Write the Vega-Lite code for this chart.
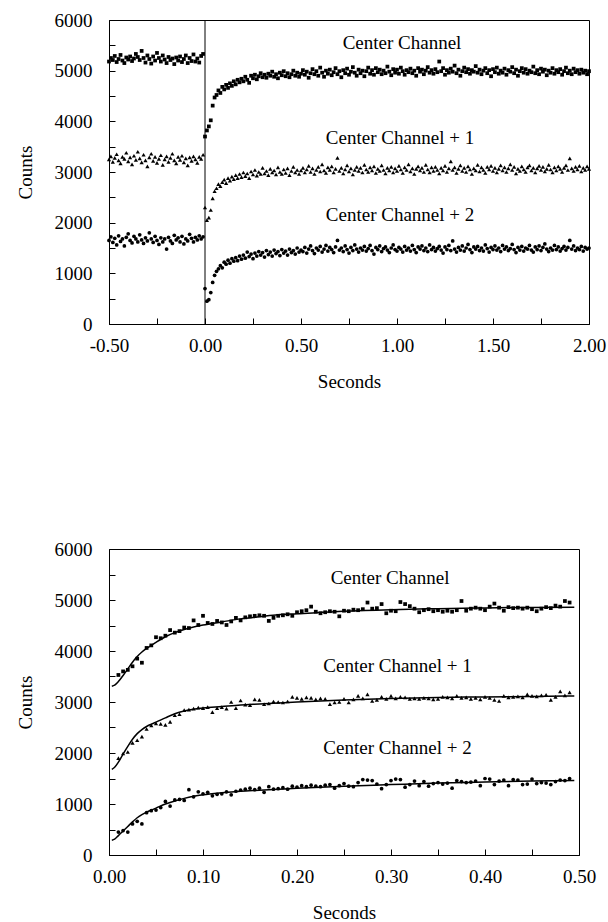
{
"$schema":"https://vega.github.io/schema/vega-lite/v6.json",
"padding":{"left":15,"top":10,"right":10,"bottom":4},
"background":"white",
"spacing":147,
"config":{
"font":"'Liberation Serif', 'DejaVu Serif', serif",
"view":{"stroke":"black","strokeWidth":1},
"axis":{"grid":false,"tickSize":-6,"tickColor":"black","domainColor":"black","labelColor":"black","titleColor":"black","labelFont":"'Liberation Serif', 'DejaVu Serif', serif","titleFont":"'Liberation Serif', 'DejaVu Serif', serif","labelFontSize":19,"titleFontSize":19,"titleFontWeight":"normal","labelOverlap":false,"labelFlush":false},
"axisX":{"labelPadding":18,"titlePadding":17},
"axisY":{"labelPadding":23,"titlePadding":19},
"text":{"font":"'Liberation Serif', 'DejaVu Serif', serif","fontSize":19,"color":"black"}
},
"datasets":{
"c0":[{"x":-0.5,"y":5180},{"x":-0.49,"y":5250},{"x":-0.48,"y":5210},{"x":-0.47,"y":5290},{"x":-0.46,"y":5170},{"x":-0.45,"y":5230},{"x":-0.44,"y":5310},{"x":-0.43,"y":5200},{"x":-0.42,"y":5150},{"x":-0.41,"y":5260},{"x":-0.4,"y":5220},{"x":-0.39,"y":5280},{"x":-0.38,"y":5190},{"x":-0.37,"y":5240},{"x":-0.36,"y":5330},{"x":-0.35,"y":5270},{"x":-0.34,"y":5210},{"x":-0.33,"y":5390},{"x":-0.32,"y":5250},{"x":-0.31,"y":5160},{"x":-0.3,"y":5300},{"x":-0.29,"y":5230},{"x":-0.28,"y":5140},{"x":-0.27,"y":5280},{"x":-0.26,"y":5200},{"x":-0.25,"y":5350},{"x":-0.24,"y":5250},{"x":-0.23,"y":5180},{"x":-0.22,"y":5300},{"x":-0.21,"y":5220},{"x":-0.2,"y":5150},{"x":-0.19,"y":5270},{"x":-0.18,"y":5210},{"x":-0.17,"y":5240},{"x":-0.16,"y":5130},{"x":-0.15,"y":5260},{"x":-0.14,"y":5200},{"x":-0.13,"y":5280},{"x":-0.12,"y":5170},{"x":-0.11,"y":5230},{"x":-0.1,"y":5300},{"x":-0.09,"y":5150},{"x":-0.08,"y":5250},{"x":-0.07,"y":5190},{"x":-0.06,"y":5320},{"x":-0.05,"y":5180},{"x":-0.04,"y":5240},{"x":-0.03,"y":5160},{"x":-0.02,"y":5290},{"x":-0.01,"y":5330},
{"x":0,"y":3700},{"x":0.01,"y":3820},{"x":0.02,"y":3900},{"x":0.03,"y":4020},{"x":0.04,"y":4310},{"x":0.05,"y":4470},{"x":0.06,"y":4520},{"x":0.07,"y":4610},{"x":0.08,"y":4560},{"x":0.09,"y":4680},{"x":0.1,"y":4630},{"x":0.11,"y":4720},{"x":0.12,"y":4660},{"x":0.13,"y":4750},{"x":0.14,"y":4700},{"x":0.15,"y":4790},{"x":0.16,"y":4730},{"x":0.17,"y":4820},{"x":0.18,"y":4770},{"x":0.19,"y":4840},{"x":0.2,"y":4790},{"x":0.21,"y":4880},{"x":0.22,"y":4820},{"x":0.23,"y":4760},{"x":0.24,"y":4900},{"x":0.25,"y":4850},{"x":0.26,"y":4920},{"x":0.27,"y":4830},{"x":0.28,"y":4890},{"x":0.29,"y":4950},{"x":0.3,"y":4870},{"x":0.31,"y":4920},{"x":0.32,"y":4860},{"x":0.33,"y":4940},{"x":0.34,"y":4900},{"x":0.35,"y":4980},{"x":0.36,"y":4880},{"x":0.37,"y":4930},{"x":0.38,"y":4850},{"x":0.39,"y":4960},{"x":0.4,"y":4910},{"x":0.41,"y":4990},{"x":0.42,"y":4890},{"x":0.43,"y":4950},{"x":0.44,"y":4870},{"x":0.45,"y":4930},{"x":0.46,"y":5000},{"x":0.47,"y":4900},{"x":0.48,"y":4960},{"x":0.49,"y":4880},{"x":0.5,"y":4940},
{"x":0.51,"y":5010},{"x":0.52,"y":4920},{"x":0.53,"y":4980},{"x":0.54,"y":4860},{"x":0.55,"y":4950},{"x":0.56,"y":5030},{"x":0.57,"y":4930},{"x":0.58,"y":4990},{"x":0.59,"y":4900},{"x":0.6,"y":5060},{"x":0.61,"y":4960},{"x":0.62,"y":4880},{"x":0.63,"y":5000},{"x":0.64,"y":4940},{"x":0.65,"y":5020},{"x":0.66,"y":4910},{"x":0.67,"y":4970},{"x":0.68,"y":5050},{"x":0.69,"y":4930},{"x":0.7,"y":4990},{"x":0.71,"y":4870},{"x":0.72,"y":5010},{"x":0.73,"y":4950},{"x":0.74,"y":5040},{"x":0.75,"y":4920},{"x":0.76,"y":4980},{"x":0.77,"y":5070},{"x":0.78,"y":4960},{"x":0.79,"y":4900},{"x":0.8,"y":5020},{"x":0.81,"y":4950},{"x":0.82,"y":5000},{"x":0.83,"y":4890},{"x":0.84,"y":4990},{"x":0.85,"y":5060},{"x":0.86,"y":4940},{"x":0.87,"y":5010},{"x":0.88,"y":4920},{"x":0.89,"y":5050},{"x":0.9,"y":4970},{"x":0.91,"y":5020},{"x":0.92,"y":4930},{"x":0.93,"y":5000},{"x":0.94,"y":4950},{"x":0.95,"y":5080},{"x":0.96,"y":4980},{"x":0.97,"y":4910},{"x":0.98,"y":5030},{"x":0.99,"y":4960},{"x":1,"y":5020},
{"x":1.01,"y":4940},{"x":1.02,"y":5060},{"x":1.03,"y":4990},{"x":1.04,"y":4920},{"x":1.05,"y":5010},{"x":1.06,"y":4970},{"x":1.07,"y":5040},{"x":1.08,"y":4950},{"x":1.09,"y":5000},{"x":1.1,"y":4900},{"x":1.11,"y":5050},{"x":1.12,"y":4980},{"x":1.13,"y":5020},{"x":1.14,"y":4930},{"x":1.15,"y":5000},{"x":1.16,"y":5070},{"x":1.17,"y":4960},{"x":1.18,"y":5010},{"x":1.19,"y":4940},{"x":1.2,"y":5030},{"x":1.21,"y":4970},{"x":1.22,"y":5180},{"x":1.23,"y":4990},{"x":1.24,"y":5050},{"x":1.25,"y":4920},{"x":1.26,"y":5010},{"x":1.27,"y":4960},{"x":1.28,"y":5040},{"x":1.29,"y":4980},{"x":1.3,"y":5100},{"x":1.31,"y":4950},{"x":1.32,"y":5020},{"x":1.33,"y":4900},{"x":1.34,"y":4990},{"x":1.35,"y":5060},{"x":1.36,"y":4970},{"x":1.37,"y":5030},{"x":1.38,"y":4940},{"x":1.39,"y":5010},{"x":1.4,"y":4980},{"x":1.41,"y":5090},{"x":1.42,"y":4960},{"x":1.43,"y":5020},{"x":1.44,"y":4930},{"x":1.45,"y":5000},{"x":1.46,"y":5050},{"x":1.47,"y":4950},{"x":1.48,"y":5010},{"x":1.49,"y":4890},{"x":1.5,"y":5030},
{"x":1.51,"y":4970},{"x":1.52,"y":5060},{"x":1.53,"y":4940},{"x":1.54,"y":5000},{"x":1.55,"y":4960},{"x":1.56,"y":5040},{"x":1.57,"y":4920},{"x":1.58,"y":5010},{"x":1.59,"y":4980},{"x":1.6,"y":5070},{"x":1.61,"y":4950},{"x":1.62,"y":5020},{"x":1.63,"y":4900},{"x":1.64,"y":4990},{"x":1.65,"y":5050},{"x":1.66,"y":4960},{"x":1.67,"y":5030},{"x":1.68,"y":4940},{"x":1.69,"y":5000},{"x":1.7,"y":4970},{"x":1.71,"y":5080},{"x":1.72,"y":4950},{"x":1.73,"y":5010},{"x":1.74,"y":4930},{"x":1.75,"y":5040},{"x":1.76,"y":4980},{"x":1.77,"y":5020},{"x":1.78,"y":4910},{"x":1.79,"y":5000},{"x":1.8,"y":4960},{"x":1.81,"y":5050},{"x":1.82,"y":4940},{"x":1.83,"y":5010},{"x":1.84,"y":4970},{"x":1.85,"y":5030},{"x":1.86,"y":4920},{"x":1.87,"y":4990},{"x":1.88,"y":5060},{"x":1.89,"y":4950},{"x":1.9,"y":5000},{"x":1.91,"y":4930},{"x":1.92,"y":5040},{"x":1.93,"y":4970},{"x":1.94,"y":5010},{"x":1.95,"y":4940},{"x":1.96,"y":5020},{"x":1.97,"y":4960},{"x":1.98,"y":5000},{"x":1.99,"y":4930},{"x":2,"y":4990}],
"c1":[{"x":-0.5,"y":3250},{"x":-0.49,"y":3310},{"x":-0.48,"y":3200},{"x":-0.47,"y":3280},{"x":-0.46,"y":3350},{"x":-0.45,"y":3230},{"x":-0.44,"y":3170},{"x":-0.43,"y":3300},{"x":-0.42,"y":3260},{"x":-0.41,"y":3380},{"x":-0.4,"y":3210},{"x":-0.39,"y":3290},{"x":-0.38,"y":3150},{"x":-0.37,"y":3320},{"x":-0.36,"y":3240},{"x":-0.35,"y":3400},{"x":-0.34,"y":3270},{"x":-0.33,"y":3190},{"x":-0.32,"y":3340},{"x":-0.31,"y":3230},{"x":-0.3,"y":3110},{"x":-0.29,"y":3290},{"x":-0.28,"y":3360},{"x":-0.27,"y":3220},{"x":-0.26,"y":3300},{"x":-0.25,"y":3180},{"x":-0.24,"y":3260},{"x":-0.23,"y":3330},{"x":-0.22,"y":3140},{"x":-0.21,"y":3250},{"x":-0.2,"y":3310},{"x":-0.19,"y":3200},{"x":-0.18,"y":3280},{"x":-0.17,"y":3360},{"x":-0.16,"y":3230},{"x":-0.15,"y":3170},{"x":-0.14,"y":3300},{"x":-0.13,"y":3240},{"x":-0.12,"y":3320},{"x":-0.11,"y":3190},{"x":-0.1,"y":3270},{"x":-0.09,"y":3130},{"x":-0.08,"y":3290},{"x":-0.07,"y":3220},{"x":-0.06,"y":3310},{"x":-0.05,"y":3250},{"x":-0.04,"y":3180},{"x":-0.03,"y":3300},{"x":-0.02,"y":3260},{"x":-0.01,"y":3340},
{"x":0,"y":2300},{"x":0.01,"y":2050},{"x":0.02,"y":2100},{"x":0.03,"y":2250},{"x":0.04,"y":2480},{"x":0.05,"y":2620},{"x":0.06,"y":2680},{"x":0.07,"y":2760},{"x":0.08,"y":2720},{"x":0.09,"y":2800},{"x":0.1,"y":2850},{"x":0.11,"y":2780},{"x":0.12,"y":2880},{"x":0.13,"y":2830},{"x":0.14,"y":2910},{"x":0.15,"y":2860},{"x":0.16,"y":2940},{"x":0.17,"y":2880},{"x":0.18,"y":2960},{"x":0.19,"y":2900},{"x":0.2,"y":2990},{"x":0.21,"y":2920},{"x":0.22,"y":2970},{"x":0.23,"y":2880},{"x":0.24,"y":3010},{"x":0.25,"y":2950},{"x":0.26,"y":3040},{"x":0.27,"y":2930},{"x":0.28,"y":3000},{"x":0.29,"y":2960},{"x":0.3,"y":3080},{"x":0.31,"y":2970},{"x":0.32,"y":3020},{"x":0.33,"y":2940},{"x":0.34,"y":3060},{"x":0.35,"y":2990},{"x":0.36,"y":3030},{"x":0.37,"y":2950},{"x":0.38,"y":3090},{"x":0.39,"y":3000},{"x":0.4,"y":2960},{"x":0.41,"y":3050},{"x":0.42,"y":2980},{"x":0.43,"y":3070},{"x":0.44,"y":2940},{"x":0.45,"y":3020},{"x":0.46,"y":3100},{"x":0.47,"y":2990},{"x":0.48,"y":3040},{"x":0.49,"y":2960},{"x":0.5,"y":3030},
{"x":0.51,"y":3080},{"x":0.52,"y":2990},{"x":0.53,"y":3050},{"x":0.54,"y":3120},{"x":0.55,"y":3000},{"x":0.56,"y":3070},{"x":0.57,"y":2960},{"x":0.58,"y":3040},{"x":0.59,"y":3100},{"x":0.6,"y":3010},{"x":0.61,"y":3150},{"x":0.62,"y":3030},{"x":0.63,"y":2980},{"x":0.64,"y":3090},{"x":0.65,"y":3040},{"x":0.66,"y":3110},{"x":0.67,"y":2990},{"x":0.68,"y":3060},{"x":0.69,"y":3280},{"x":0.7,"y":3020},{"x":0.71,"y":3080},{"x":0.72,"y":2970},{"x":0.73,"y":3050},{"x":0.74,"y":3130},{"x":0.75,"y":3010},{"x":0.76,"y":3070},{"x":0.77,"y":2950},{"x":0.78,"y":3040},{"x":0.79,"y":3100},{"x":0.8,"y":3020},{"x":0.81,"y":3080},{"x":0.82,"y":2990},{"x":0.83,"y":3140},{"x":0.84,"y":3050},{"x":0.85,"y":3000},{"x":0.86,"y":3090},{"x":0.87,"y":3030},{"x":0.88,"y":3110},{"x":0.89,"y":2980},{"x":0.9,"y":3060},{"x":0.91,"y":3020},{"x":0.92,"y":3130},{"x":0.93,"y":3040},{"x":0.94,"y":2970},{"x":0.95,"y":3080},{"x":0.96,"y":3030},{"x":0.97,"y":3100},{"x":0.98,"y":2990},{"x":0.99,"y":3070},{"x":1,"y":3020},
{"x":1.01,"y":3120},{"x":1.02,"y":3050},{"x":1.03,"y":2980},{"x":1.04,"y":3090},{"x":1.05,"y":3040},{"x":1.06,"y":3150},{"x":1.07,"y":3010},{"x":1.08,"y":3070},{"x":1.09,"y":2960},{"x":1.1,"y":3060},{"x":1.11,"y":3110},{"x":1.12,"y":3030},{"x":1.13,"y":3080},{"x":1.14,"y":3000},{"x":1.15,"y":3140},{"x":1.16,"y":3050},{"x":1.17,"y":2990},{"x":1.18,"y":3090},{"x":1.19,"y":3020},{"x":1.2,"y":3100},{"x":1.21,"y":3040},{"x":1.22,"y":2970},{"x":1.23,"y":3080},{"x":1.24,"y":3030},{"x":1.25,"y":3120},{"x":1.26,"y":3000},{"x":1.27,"y":3070},{"x":1.28,"y":3210},{"x":1.29,"y":3040},{"x":1.3,"y":3090},{"x":1.31,"y":2980},{"x":1.32,"y":3060},{"x":1.33,"y":3130},{"x":1.34,"y":3020},{"x":1.35,"y":3080},{"x":1.36,"y":3000},{"x":1.37,"y":3110},{"x":1.38,"y":3050},{"x":1.39,"y":2960},{"x":1.4,"y":3070},{"x":1.41,"y":3030},{"x":1.42,"y":3140},{"x":1.43,"y":3010},{"x":1.44,"y":3090},{"x":1.45,"y":3040},{"x":1.46,"y":2980},{"x":1.47,"y":3100},{"x":1.48,"y":3050},{"x":1.49,"y":3120},{"x":1.5,"y":3020},
{"x":1.51,"y":3080},{"x":1.52,"y":2990},{"x":1.53,"y":3060},{"x":1.54,"y":3130},{"x":1.55,"y":3030},{"x":1.56,"y":3090},{"x":1.57,"y":3000},{"x":1.58,"y":3070},{"x":1.59,"y":3150},{"x":1.6,"y":3040},{"x":1.61,"y":3100},{"x":1.62,"y":2970},{"x":1.63,"y":3060},{"x":1.64,"y":3020},{"x":1.65,"y":3110},{"x":1.66,"y":3050},{"x":1.67,"y":3000},{"x":1.68,"y":3090},{"x":1.69,"y":3130},{"x":1.7,"y":3030},{"x":1.71,"y":3080},{"x":1.72,"y":2990},{"x":1.73,"y":3070},{"x":1.74,"y":3120},{"x":1.75,"y":3040},{"x":1.76,"y":3100},{"x":1.77,"y":3010},{"x":1.78,"y":3060},{"x":1.79,"y":3140},{"x":1.8,"y":3050},{"x":1.81,"y":2990},{"x":1.82,"y":3090},{"x":1.83,"y":3030},{"x":1.84,"y":3110},{"x":1.85,"y":3060},{"x":1.86,"y":3000},{"x":1.87,"y":3080},{"x":1.88,"y":3130},{"x":1.89,"y":3040},{"x":1.9,"y":3270},{"x":1.91,"y":3070},{"x":1.92,"y":3020},{"x":1.93,"y":3100},{"x":1.94,"y":3050},{"x":1.95,"y":3120},{"x":1.96,"y":3010},{"x":1.97,"y":3080},{"x":1.98,"y":3040},{"x":1.99,"y":3110},{"x":2,"y":3060}],
"c2":[{"x":-0.5,"y":1650},{"x":-0.49,"y":1720},{"x":-0.48,"y":1610},{"x":-0.47,"y":1690},{"x":-0.46,"y":1560},{"x":-0.45,"y":1740},{"x":-0.44,"y":1630},{"x":-0.43,"y":1680},{"x":-0.42,"y":1540},{"x":-0.41,"y":1710},{"x":-0.4,"y":1780},{"x":-0.39,"y":1650},{"x":-0.38,"y":1600},{"x":-0.37,"y":1730},{"x":-0.36,"y":1680},{"x":-0.35,"y":1620},{"x":-0.34,"y":1760},{"x":-0.33,"y":1660},{"x":-0.32,"y":1590},{"x":-0.31,"y":1700},{"x":-0.3,"y":1640},{"x":-0.29,"y":1800},{"x":-0.28,"y":1680},{"x":-0.27,"y":1610},{"x":-0.26,"y":1730},{"x":-0.25,"y":1650},{"x":-0.24,"y":1570},{"x":-0.23,"y":1700},{"x":-0.22,"y":1620},{"x":-0.21,"y":1680},{"x":-0.2,"y":1480},{"x":-0.19,"y":1710},{"x":-0.18,"y":1640},{"x":-0.17,"y":1590},{"x":-0.16,"y":1750},{"x":-0.15,"y":1660},{"x":-0.14,"y":1700},{"x":-0.13,"y":1620},{"x":-0.12,"y":1730},{"x":-0.11,"y":1580},{"x":-0.1,"y":1680},{"x":-0.09,"y":1640},{"x":-0.08,"y":1770},{"x":-0.07,"y":1690},{"x":-0.06,"y":1620},{"x":-0.05,"y":1710},{"x":-0.04,"y":1660},{"x":-0.03,"y":1740},{"x":-0.02,"y":1680},{"x":-0.01,"y":1720},
{"x":0,"y":700},{"x":0.01,"y":450},{"x":0.02,"y":480},{"x":0.03,"y":620},{"x":0.04,"y":820},{"x":0.05,"y":960},{"x":0.06,"y":1040},{"x":0.07,"y":1090},{"x":0.08,"y":1150},{"x":0.09,"y":1110},{"x":0.1,"y":1220},{"x":0.11,"y":1180},{"x":0.12,"y":1260},{"x":0.13,"y":1200},{"x":0.14,"y":1290},{"x":0.15,"y":1240},{"x":0.16,"y":1310},{"x":0.17,"y":1250},{"x":0.18,"y":1340},{"x":0.19,"y":1280},{"x":0.2,"y":1360},{"x":0.21,"y":1300},{"x":0.22,"y":1420},{"x":0.23,"y":1330},{"x":0.24,"y":1380},{"x":0.25,"y":1290},{"x":0.26,"y":1400},{"x":0.27,"y":1340},{"x":0.28,"y":1430},{"x":0.29,"y":1360},{"x":0.3,"y":1410},{"x":0.31,"y":1320},{"x":0.32,"y":1450},{"x":0.33,"y":1370},{"x":0.34,"y":1420},{"x":0.35,"y":1340},{"x":0.36,"y":1460},{"x":0.37,"y":1390},{"x":0.38,"y":1430},{"x":0.39,"y":1350},{"x":0.4,"y":1470},{"x":0.41,"y":1400},{"x":0.42,"y":1440},{"x":0.43,"y":1360},{"x":0.44,"y":1480},{"x":0.45,"y":1410},{"x":0.46,"y":1450},{"x":0.47,"y":1380},{"x":0.48,"y":1500},{"x":0.49,"y":1420},{"x":0.5,"y":1460},
{"x":0.51,"y":1430},{"x":0.52,"y":1510},{"x":0.53,"y":1400},{"x":0.54,"y":1480},{"x":0.55,"y":1540},{"x":0.56,"y":1450},{"x":0.57,"y":1390},{"x":0.58,"y":1500},{"x":0.59,"y":1460},{"x":0.6,"y":1530},{"x":0.61,"y":1420},{"x":0.62,"y":1480},{"x":0.63,"y":1550},{"x":0.64,"y":1440},{"x":0.65,"y":1510},{"x":0.66,"y":1470},{"x":0.67,"y":1410},{"x":0.68,"y":1520},{"x":0.69,"y":1650},{"x":0.7,"y":1460},{"x":0.71,"y":1500},{"x":0.72,"y":1430},{"x":0.73,"y":1540},{"x":0.74,"y":1470},{"x":0.75,"y":1400},{"x":0.76,"y":1510},{"x":0.77,"y":1450},{"x":0.78,"y":1560},{"x":0.79,"y":1480},{"x":0.8,"y":1420},{"x":0.81,"y":1500},{"x":0.82,"y":1460},{"x":0.83,"y":1530},{"x":0.84,"y":1440},{"x":0.85,"y":1490},{"x":0.86,"y":1550},{"x":0.87,"y":1450},{"x":0.88,"y":1380},{"x":0.89,"y":1510},{"x":0.9,"y":1470},{"x":0.91,"y":1540},{"x":0.92,"y":1430},{"x":0.93,"y":1490},{"x":0.94,"y":1520},{"x":0.95,"y":1460},{"x":0.96,"y":1410},{"x":0.97,"y":1500},{"x":0.98,"y":1560},{"x":0.99,"y":1470},{"x":1,"y":1440},
{"x":1.01,"y":1510},{"x":1.02,"y":1480},{"x":1.03,"y":1420},{"x":1.04,"y":1530},{"x":1.05,"y":1460},{"x":1.06,"y":1500},{"x":1.07,"y":1440},{"x":1.08,"y":1550},{"x":1.09,"y":1470},{"x":1.1,"y":1410},{"x":1.11,"y":1520},{"x":1.12,"y":1480},{"x":1.13,"y":1540},{"x":1.14,"y":1450},{"x":1.15,"y":1500},{"x":1.16,"y":1430},{"x":1.17,"y":1560},{"x":1.18,"y":1470},{"x":1.19,"y":1510},{"x":1.2,"y":1440},{"x":1.21,"y":1490},{"x":1.22,"y":1530},{"x":1.23,"y":1460},{"x":1.24,"y":1400},{"x":1.25,"y":1520},{"x":1.26,"y":1470},{"x":1.27,"y":1550},{"x":1.28,"y":1450},{"x":1.29,"y":1640},{"x":1.3,"y":1480},{"x":1.31,"y":1420},{"x":1.32,"y":1510},{"x":1.33,"y":1460},{"x":1.34,"y":1540},{"x":1.35,"y":1440},{"x":1.36,"y":1500},{"x":1.37,"y":1570},{"x":1.38,"y":1470},{"x":1.39,"y":1410},{"x":1.4,"y":1520},{"x":1.41,"y":1480},{"x":1.42,"y":1530},{"x":1.43,"y":1450},{"x":1.44,"y":1500},{"x":1.45,"y":1440},{"x":1.46,"y":1560},{"x":1.47,"y":1490},{"x":1.48,"y":1420},{"x":1.49,"y":1510},{"x":1.5,"y":1470},
{"x":1.51,"y":1540},{"x":1.52,"y":1460},{"x":1.53,"y":1500},{"x":1.54,"y":1430},{"x":1.55,"y":1550},{"x":1.56,"y":1480},{"x":1.57,"y":1520},{"x":1.58,"y":1450},{"x":1.59,"y":1490},{"x":1.6,"y":1570},{"x":1.61,"y":1470},{"x":1.62,"y":1410},{"x":1.63,"y":1510},{"x":1.64,"y":1460},{"x":1.65,"y":1530},{"x":1.66,"y":1440},{"x":1.67,"y":1500},{"x":1.68,"y":1480},{"x":1.69,"y":1550},{"x":1.7,"y":1460},{"x":1.71,"y":1420},{"x":1.72,"y":1520},{"x":1.73,"y":1470},{"x":1.74,"y":1540},{"x":1.75,"y":1450},{"x":1.76,"y":1510},{"x":1.77,"y":1580},{"x":1.78,"y":1480},{"x":1.79,"y":1430},{"x":1.8,"y":1500},{"x":1.81,"y":1460},{"x":1.82,"y":1550},{"x":1.83,"y":1470},{"x":1.84,"y":1520},{"x":1.85,"y":1440},{"x":1.86,"y":1490},{"x":1.87,"y":1530},{"x":1.88,"y":1460},{"x":1.89,"y":1510},{"x":1.9,"y":1650},{"x":1.91,"y":1480},{"x":1.92,"y":1540},{"x":1.93,"y":1450},{"x":1.94,"y":1500},{"x":1.95,"y":1470},{"x":1.96,"y":1530},{"x":1.97,"y":1440},{"x":1.98,"y":1510},{"x":1.99,"y":1480},{"x":2,"y":1500}],
"b0":[{"x":0.01,"y":3530},{"x":0.015,"y":3600},{"x":0.02,"y":3630},{"x":0.025,"y":3700},{"x":0.03,"y":3850},{"x":0.035,"y":3770},{"x":0.04,"y":4060},{"x":0.045,"y":4110},{"x":0.05,"y":4270},{"x":0.055,"y":4250},{"x":0.06,"y":4300},{"x":0.065,"y":4410},{"x":0.07,"y":4360},{"x":0.075,"y":4390},{"x":0.08,"y":4460},{"x":0.085,"y":4450},{"x":0.09,"y":4600},{"x":0.095,"y":4510},{"x":0.1,"y":4690},{"x":0.105,"y":4550},{"x":0.11,"y":4530},{"x":0.115,"y":4590},{"x":0.12,"y":4560},{"x":0.125,"y":4510},{"x":0.13,"y":4580},{"x":0.135,"y":4650},{"x":0.14,"y":4600},{"x":0.145,"y":4660},{"x":0.15,"y":4680},{"x":0.155,"y":4690},{"x":0.16,"y":4700},{"x":0.165,"y":4690},{"x":0.17,"y":4590},{"x":0.175,"y":4650},{"x":0.18,"y":4690},{"x":0.185,"y":4700},{"x":0.19,"y":4720},{"x":0.195,"y":4690},{"x":0.2,"y":4760},{"x":0.205,"y":4780},{"x":0.21,"y":4800},{"x":0.215,"y":4870},{"x":0.22,"y":4770},{"x":0.225,"y":4740},{"x":0.23,"y":4760},{"x":0.235,"y":4780},{"x":0.24,"y":4770},{"x":0.245,"y":4680},{"x":0.25,"y":4790},{"x":0.255,"y":4780},{"x":0.26,"y":4810},{"x":0.265,"y":4800},{"x":0.27,"y":4820},{"x":0.275,"y":4950},{"x":0.28,"y":4830},{"x":0.285,"y":4840},{"x":0.29,"y":4920},{"x":0.295,"y":4740},{"x":0.3,"y":4790},{"x":0.305,"y":4780},{"x":0.31,"y":4960},{"x":0.315,"y":4920},{"x":0.32,"y":4880},{"x":0.325,"y":4830},{"x":0.33,"y":4760},{"x":0.335,"y":4800},{"x":0.34,"y":4820},{"x":0.345,"y":4780},{"x":0.35,"y":4800},{"x":0.355,"y":4770},{"x":0.36,"y":4790},{"x":0.365,"y":4770},{"x":0.37,"y":4800},{"x":0.375,"y":4980},{"x":0.38,"y":4790},{"x":0.385,"y":4830},{"x":0.39,"y":4850},{"x":0.395,"y":4830},{"x":0.4,"y":4800},{"x":0.405,"y":4870},{"x":0.41,"y":4930},{"x":0.415,"y":4850},{"x":0.42,"y":4790},{"x":0.425,"y":4860},{"x":0.43,"y":4840},{"x":0.435,"y":4850},{"x":0.44,"y":4830},{"x":0.445,"y":4850},{"x":0.45,"y":4820},{"x":0.455,"y":4780},{"x":0.46,"y":4830},{"x":0.465,"y":4860},{"x":0.47,"y":4840},{"x":0.475,"y":4890},{"x":0.48,"y":4870},{"x":0.485,"y":4980},{"x":0.49,"y":4950}],
"b1":[{"x":0.01,"y":1900},{"x":0.015,"y":1990},{"x":0.02,"y":2020},{"x":0.025,"y":2200},{"x":0.03,"y":2250},{"x":0.035,"y":2320},{"x":0.04,"y":2470},{"x":0.045,"y":2540},{"x":0.05,"y":2580},{"x":0.055,"y":2570},{"x":0.06,"y":2550},{"x":0.065,"y":2610},{"x":0.07,"y":2740},{"x":0.075,"y":2760},{"x":0.08,"y":2840},{"x":0.085,"y":2850},{"x":0.09,"y":2870},{"x":0.095,"y":2890},{"x":0.1,"y":2880},{"x":0.105,"y":2900},{"x":0.11,"y":2800},{"x":0.115,"y":2880},{"x":0.12,"y":2900},{"x":0.125,"y":2870},{"x":0.13,"y":3000},{"x":0.135,"y":2880},{"x":0.14,"y":3030},{"x":0.145,"y":2950},{"x":0.15,"y":2940},{"x":0.155,"y":3050},{"x":0.16,"y":3040},{"x":0.165,"y":2960},{"x":0.17,"y":2970},{"x":0.175,"y":3010},{"x":0.18,"y":3000},{"x":0.185,"y":2990},{"x":0.19,"y":3010},{"x":0.195,"y":3100},{"x":0.2,"y":3080},{"x":0.205,"y":3060},{"x":0.21,"y":3090},{"x":0.215,"y":3080},{"x":0.22,"y":3050},{"x":0.225,"y":3070},{"x":0.23,"y":3060},{"x":0.235,"y":2960},{"x":0.24,"y":2990},{"x":0.245,"y":3000},{"x":0.25,"y":3060},{"x":0.255,"y":2990},{"x":0.26,"y":3050},{"x":0.265,"y":3120},{"x":0.27,"y":3070},{"x":0.275,"y":3150},{"x":0.28,"y":3020},{"x":0.285,"y":3040},{"x":0.29,"y":3100},{"x":0.295,"y":3060},{"x":0.3,"y":3120},{"x":0.305,"y":3070},{"x":0.31,"y":3100},{"x":0.315,"y":3090},{"x":0.32,"y":3060},{"x":0.325,"y":3070},{"x":0.33,"y":3060},{"x":0.335,"y":3080},{"x":0.34,"y":3070},{"x":0.345,"y":3050},{"x":0.35,"y":3060},{"x":0.355,"y":3100},{"x":0.36,"y":3090},{"x":0.365,"y":3070},{"x":0.37,"y":3120},{"x":0.375,"y":3080},{"x":0.38,"y":3090},{"x":0.385,"y":3060},{"x":0.39,"y":3080},{"x":0.395,"y":3050},{"x":0.4,"y":3100},{"x":0.405,"y":3080},{"x":0.41,"y":3040},{"x":0.415,"y":3020},{"x":0.42,"y":3120},{"x":0.425,"y":3090},{"x":0.43,"y":3100},{"x":0.435,"y":3110},{"x":0.44,"y":3090},{"x":0.445,"y":3150},{"x":0.45,"y":3120},{"x":0.455,"y":3110},{"x":0.46,"y":3130},{"x":0.465,"y":3140},{"x":0.47,"y":3040},{"x":0.475,"y":3100},{"x":0.48,"y":3210},{"x":0.485,"y":3130},{"x":0.49,"y":3190}],
"b2":[{"x":0.01,"y":450},{"x":0.015,"y":480},{"x":0.02,"y":450},{"x":0.025,"y":610},{"x":0.03,"y":660},{"x":0.035,"y":610},{"x":0.04,"y":830},{"x":0.045,"y":870},{"x":0.05,"y":880},{"x":0.055,"y":930},{"x":0.06,"y":1050},{"x":0.065,"y":960},{"x":0.07,"y":1080},{"x":0.075,"y":1090},{"x":0.08,"y":1070},{"x":0.085,"y":1280},{"x":0.09,"y":1140},{"x":0.095,"y":1240},{"x":0.1,"y":1200},{"x":0.105,"y":1230},{"x":0.11,"y":1160},{"x":0.115,"y":1190},{"x":0.12,"y":1200},{"x":0.125,"y":1240},{"x":0.13,"y":1180},{"x":0.135,"y":1250},{"x":0.14,"y":1270},{"x":0.145,"y":1290},{"x":0.15,"y":1310},{"x":0.155,"y":1280},{"x":0.16,"y":1310},{"x":0.165,"y":1230},{"x":0.17,"y":1340},{"x":0.175,"y":1290},{"x":0.18,"y":1300},{"x":0.185,"y":1320},{"x":0.19,"y":1290},{"x":0.195,"y":1350},{"x":0.2,"y":1330},{"x":0.205,"y":1360},{"x":0.21,"y":1340},{"x":0.215,"y":1370},{"x":0.22,"y":1350},{"x":0.225,"y":1340},{"x":0.23,"y":1370},{"x":0.235,"y":1380},{"x":0.24,"y":1310},{"x":0.245,"y":1360},{"x":0.25,"y":1400},{"x":0.255,"y":1350},{"x":0.26,"y":1340},{"x":0.265,"y":1420},{"x":0.27,"y":1480},{"x":0.275,"y":1470},{"x":0.28,"y":1460},{"x":0.285,"y":1390},{"x":0.29,"y":1300},{"x":0.295,"y":1380},{"x":0.3,"y":1460},{"x":0.305,"y":1490},{"x":0.31,"y":1480},{"x":0.315,"y":1330},{"x":0.32,"y":1380},{"x":0.325,"y":1450},{"x":0.33,"y":1360},{"x":0.335,"y":1440},{"x":0.34,"y":1350},{"x":0.345,"y":1400},{"x":0.35,"y":1420},{"x":0.355,"y":1390},{"x":0.36,"y":1410},{"x":0.365,"y":1310},{"x":0.37,"y":1460},{"x":0.375,"y":1440},{"x":0.38,"y":1420},{"x":0.385,"y":1430},{"x":0.39,"y":1450},{"x":0.395,"y":1360},{"x":0.4,"y":1500},{"x":0.405,"y":1490},{"x":0.41,"y":1380},{"x":0.415,"y":1450},{"x":0.42,"y":1470},{"x":0.425,"y":1360},{"x":0.43,"y":1480},{"x":0.435,"y":1470},{"x":0.44,"y":1380},{"x":0.445,"y":1390},{"x":0.45,"y":1490},{"x":0.455,"y":1400},{"x":0.46,"y":1420},{"x":0.465,"y":1410},{"x":0.47,"y":1380},{"x":0.475,"y":1440},{"x":0.48,"y":1470},{"x":0.485,"y":1460},{"x":0.49,"y":1500}],
"f0":[{"x":0.003,"y":3310},{"x":0.006,"y":3330},{"x":0.01,"y":3400},{"x":0.015,"y":3520},{"x":0.02,"y":3650},{"x":0.025,"y":3780},{"x":0.03,"y":3890},{"x":0.035,"y":3980},{"x":0.04,"y":4050},{"x":0.045,"y":4110},{"x":0.05,"y":4170},{"x":0.06,"y":4280},{"x":0.07,"y":4360},{"x":0.08,"y":4420},{"x":0.09,"y":4470},{"x":0.1,"y":4510},{"x":0.12,"y":4570},{"x":0.14,"y":4630},{"x":0.16,"y":4670},{"x":0.18,"y":4710},{"x":0.2,"y":4730},{"x":0.25,"y":4780},{"x":0.3,"y":4810},{"x":0.35,"y":4830},{"x":0.4,"y":4845},{"x":0.45,"y":4855},{"x":0.495,"y":4860}],
"f1":[{"x":0.003,"y":1680},{"x":0.006,"y":1720},{"x":0.01,"y":1820},{"x":0.015,"y":1980},{"x":0.02,"y":2130},{"x":0.025,"y":2270},{"x":0.03,"y":2380},{"x":0.035,"y":2460},{"x":0.04,"y":2520},{"x":0.045,"y":2565},{"x":0.05,"y":2605},{"x":0.06,"y":2690},{"x":0.07,"y":2770},{"x":0.08,"y":2825},{"x":0.09,"y":2860},{"x":0.1,"y":2880},{"x":0.12,"y":2910},{"x":0.14,"y":2940},{"x":0.16,"y":2960},{"x":0.18,"y":2980},{"x":0.2,"y":3000},{"x":0.25,"y":3040},{"x":0.3,"y":3070},{"x":0.35,"y":3090},{"x":0.4,"y":3100},{"x":0.45,"y":3110},{"x":0.495,"y":3120}],
"f2":[{"x":0.003,"y":290},{"x":0.006,"y":310},{"x":0.01,"y":380},{"x":0.015,"y":470},{"x":0.02,"y":560},{"x":0.025,"y":650},{"x":0.03,"y":730},{"x":0.035,"y":790},{"x":0.04,"y":840},{"x":0.045,"y":880},{"x":0.05,"y":920},{"x":0.06,"y":1000},{"x":0.07,"y":1060},{"x":0.08,"y":1110},{"x":0.09,"y":1150},{"x":0.1,"y":1180},{"x":0.12,"y":1220},{"x":0.14,"y":1250},{"x":0.16,"y":1270},{"x":0.18,"y":1290},{"x":0.2,"y":1310},{"x":0.25,"y":1350},{"x":0.3,"y":1380},{"x":0.35,"y":1410},{"x":0.4,"y":1430},{"x":0.45,"y":1450},{"x":0.495,"y":1460}],
"lt":[{"x":1.026,"y":5546,"t":"Center Channel"},{"x":1.016,"y":3671,"t":"Center Channel + 1"},{"x":1.016,"y":2151,"t":"Center Channel + 2"}],
"lb":[{"x":0.299,"y":5430,"t":"Center Channel"},{"x":0.307,"y":3700,"t":"Center Channel + 1"},{"x":0.307,"y":2100,"t":"Center Channel + 2"}],
"z":[{"x":0,"y":0}]
},
"vconcat":[
{
"width":480,"height":304,
"encoding":{
"x":{"field":"x","type":"quantitative","scale":{"domain":[-0.5,2],"nice":false,"zero":false},"axis":{"title":"Seconds","values":[-0.5,-0.25,0,0.25,0.5,0.75,1,1.25,1.5,1.75,2],"format":".2f","labelExpr":"abs(datum.value*2-round(datum.value*2))<0.001 ? replace(datum.label,'\u2212','-') : ''"}},
"y":{"field":"y","type":"quantitative","scale":{"domain":[0,6000],"nice":false},"axis":{"title":"Counts","values":[0,500,1000,1500,2000,2500,3000,3500,4000,4500,5000,5500,6000],"format":"d","labelExpr":"datum.value % 1000 == 0 ? datum.label : ''"}}
},
"layer":[
{"data":{"name":"z"},"mark":{"type":"rule","color":"black","strokeWidth":1},"encoding":{"y2":{"datum":6000}}},
{"data":{"name":"c0"},"mark":{"type":"point","shape":"square","filled":true,"size":14,"color":"black","opacity":1}},
{"data":{"name":"c1"},"mark":{"type":"point","shape":"triangle-up","filled":true,"size":18,"color":"black","opacity":1}},
{"data":{"name":"c2"},"mark":{"type":"point","shape":"circle","filled":true,"size":14,"color":"black","opacity":1}},
{"data":{"name":"lt"},"mark":{"type":"text","align":"center","baseline":"middle"},"encoding":{"text":{"field":"t"}}}
]
},
{
"width":470,"height":306,
"encoding":{
"x":{"field":"x","type":"quantitative","scale":{"domain":[0,0.5],"nice":false,"zero":false},"axis":{"title":"Seconds","values":[0,0.05,0.1,0.15,0.2,0.25,0.3,0.35,0.4,0.45,0.5],"format":".2f","labelExpr":"abs(datum.value*10-round(datum.value*10))<0.001 ? datum.label : ''"}},
"y":{"field":"y","type":"quantitative","scale":{"domain":[0,6000],"nice":false},"axis":{"title":"Counts","values":[0,500,1000,1500,2000,2500,3000,3500,4000,4500,5000,5500,6000],"format":"d","labelExpr":"datum.value % 1000 == 0 ? datum.label : ''"}}
},
"layer":[
{"data":{"name":"f0"},"mark":{"type":"line","color":"black","strokeWidth":1.5,"interpolate":"monotone"}},
{"data":{"name":"f1"},"mark":{"type":"line","color":"black","strokeWidth":1.5,"interpolate":"monotone"}},
{"data":{"name":"f2"},"mark":{"type":"line","color":"black","strokeWidth":1.5,"interpolate":"monotone"}},
{"data":{"name":"b0"},"mark":{"type":"point","shape":"square","filled":true,"size":14,"color":"black","opacity":1}},
{"data":{"name":"b1"},"mark":{"type":"point","shape":"triangle-up","filled":true,"size":18,"color":"black","opacity":1}},
{"data":{"name":"b2"},"mark":{"type":"point","shape":"circle","filled":true,"size":14,"color":"black","opacity":1}},
{"data":{"name":"lb"},"mark":{"type":"text","align":"center","baseline":"middle"},"encoding":{"text":{"field":"t"}}}
]
}
]
}
